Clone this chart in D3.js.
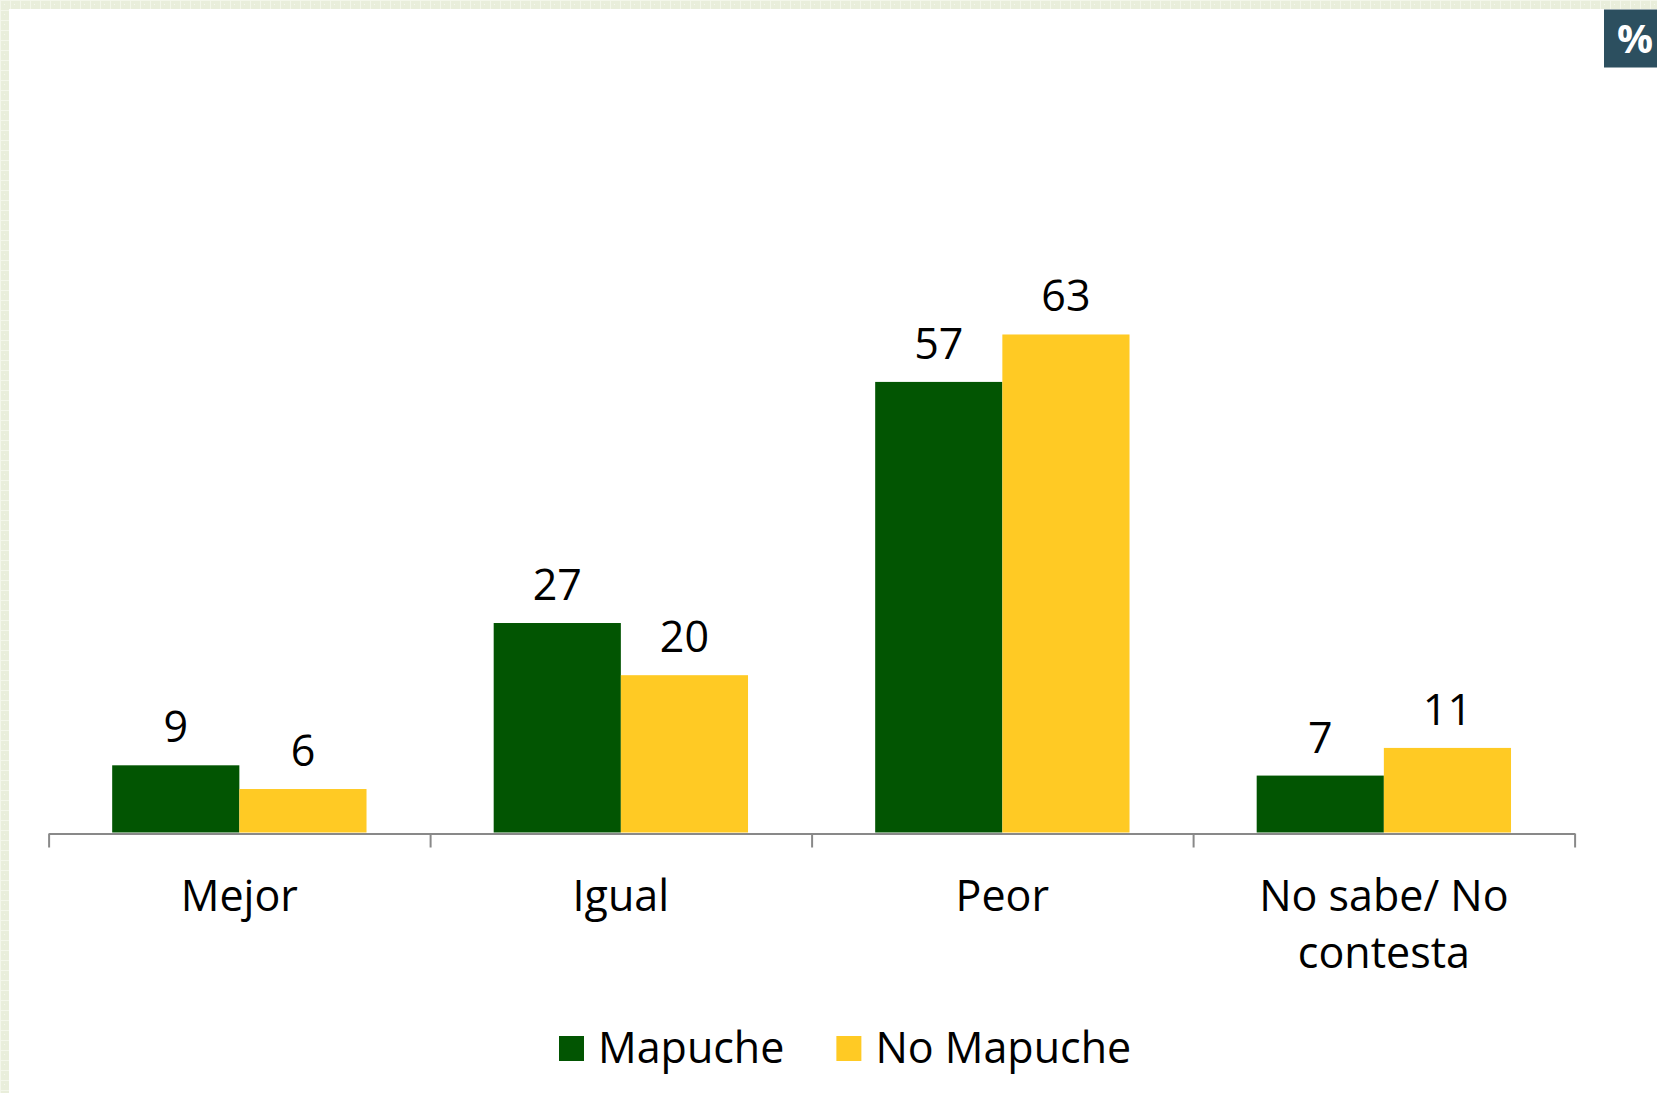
<!DOCTYPE html>
<html>
<head>
<meta charset="utf-8">
<script src="https://cdn.jsdelivr.net/npm/d3@7"></script>
<style>
  html, body { margin: 0; padding: 0; background: #ffffff; }
  svg { display: block; }
  text { font-family: "Open Sans", "Noto Sans", sans-serif; }
</style>
</head>
<body>
<svg id="chart" width="1657" height="1093"></svg>
<script>
// ---- data ----
const categories = ["Mejor", "Igual", "Peor", "No sabe/ No contesta"];
const seriesNames = ["Mapuche", "No Mapuche"];
const mapuche = [8.5, 26.5, 57, 7.2];
const noMapuche = [5.5, 19.9, 63, 10.7];
const seriesColors = ["#025502", "#FFCA24"];
const badgeLabel = "%";

const W = 1657, H = 1093;
const svg = d3.select("#chart");

// ---- patterned frame (top and left bands) ----
const defs = svg.append("defs");
const pat = defs.append("pattern").attr("id", "frame").attr("patternUnits", "userSpaceOnUse")
  .attr("width", 10).attr("height", 10);
pat.append("rect").attr("width", 10).attr("height", 10).attr("fill", "#e9eedb");
pat.append("path").attr("d", "M0,0.5H10M0.5,0V10").attr("stroke", "#f3f6ea").attr("stroke-width", 1);
pat.append("rect").attr("x", 4).attr("y", 4).attr("width", 1).attr("height", 1).attr("fill", "#f6f8ef");
svg.append("rect").attr("x", 0).attr("y", 0).attr("width", W).attr("height", 9).attr("fill", "url(#frame)");
svg.append("rect").attr("x", 0).attr("y", 0).attr("width", 9).attr("height", H).attr("fill", "url(#frame)");

// ---- badge ----
svg.append("rect").attr("x", 1604).attr("y", 9.5).attr("width", 60).attr("height", 58).attr("fill", "#2c4f5f");
svg.append("text").attr("x", 1635).attr("y", 53).attr("text-anchor", "middle")
  .attr("font-size", 40).attr("font-weight", 700).attr("fill", "#ffffff").text(badgeLabel);

// ---- scales ----
const left = 48.6, right = 1574.6, baseY = 832.5;
const x0 = d3.scaleBand().domain(categories).range([left, right]).paddingInner(0).paddingOuter(0);
const x1 = d3.scaleBand().domain(seriesNames).range([0, x0.bandwidth()]).paddingInner(0).paddingOuter(0.5);
const y = d3.scaleLinear().domain([0, 70]).range([baseY, baseY - 70 * 7.905]);
const color = d3.scaleOrdinal().domain(seriesNames).range(seriesColors);

const rows = categories.map((c, i) => ({
  cat: c,
  vals: [{ s: seriesNames[0], v: mapuche[i] }, { s: seriesNames[1], v: noMapuche[i] }]
}));

// ---- bars ----
const groups = svg.append("g").selectAll("g").data(rows).join("g")
  .attr("transform", d => `translate(${x0(d.cat)},0)`);
groups.selectAll("rect").data(d => d.vals).join("rect")
  .attr("x", d => x1(d.s))
  .attr("y", d => y(d.v))
  .attr("width", x1.bandwidth())
  .attr("height", d => y(0) - y(d.v))
  .attr("fill", d => color(d.s));
groups.selectAll("text").data(d => d.vals).join("text")
  .attr("x", d => x1(d.s) + x1.bandwidth() / 2)
  .attr("y", d => y(d.v) - 23)
  .attr("text-anchor", "middle")
  .attr("font-size", 43)
  .attr("fill", "#000")
  .text(d => Math.round(d.v));

// ---- axis (ticks at category boundaries) ----
const xb = d3.scaleLinear().domain([0, categories.length]).range([left, right]);
const axis = svg.append("g").attr("transform", `translate(0,${baseY + 1})`)
  .call(d3.axisBottom(xb).tickValues(d3.range(categories.length + 1)).tickFormat("").tickSize(14).tickSizeOuter(0));
axis.selectAll("path, line").attr("stroke", "#898989").attr("stroke-width", 2);

// ---- category labels (wrapped) ----
const catG = svg.append("g");
categories.forEach(c => {
  const cx = x0(c) + x0.bandwidth() / 2;
  const t = catG.append("text").attr("x", cx).attr("y", 911).attr("text-anchor", "middle")
    .attr("font-size", 43).attr("fill", "#000");
  const words = c.split(" ");
  let line = [], lineNo = 0;
  let ts = t.append("tspan").attr("x", cx).attr("y", 911);
  words.forEach(w => {
    line.push(w);
    ts.text(line.join(" "));
    if (ts.node().getComputedTextLength() > 320 && line.length > 1) {
      line.pop();
      ts.text(line.join(" "));
      line = [w];
      lineNo++;
      ts = t.append("tspan").attr("x", cx).attr("y", 911 + lineNo * 57).text(w);
    }
  });
});

// ---- legend ----
const leg = svg.append("g");
let lx = 559;
seriesNames.forEach(s => {
  leg.append("rect").attr("x", lx).attr("y", 1036).attr("width", 25).attr("height", 25).attr("fill", color(s));
  const t = leg.append("text").attr("x", lx + 39).attr("y", 1063).attr("font-size", 43).attr("fill", "#000").text(s);
  lx += 39 + t.node().getComputedTextLength() + 52;
});
</script>
</body>
</html>
